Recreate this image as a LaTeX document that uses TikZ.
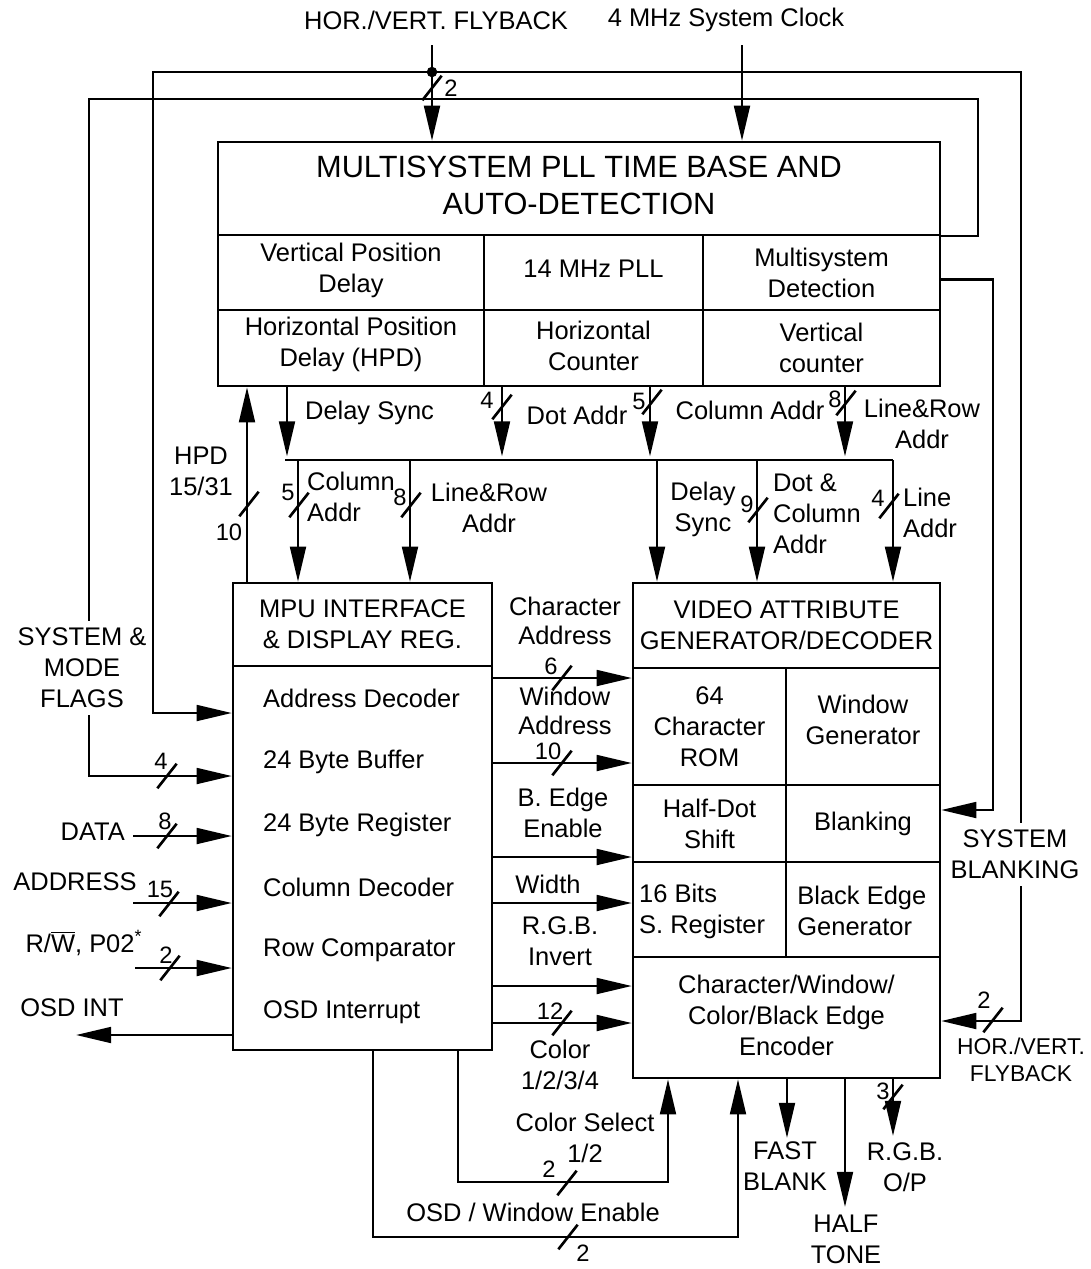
\documentclass[tikz,border=0pt]{standalone}
\usepackage{fontspec}
\setmainfont{Liberation Sans}
\usetikzlibrary{arrows.meta,positioning,fit}

\begin{document}
\begin{tikzpicture}[x=0.02cm,y=-0.02cm]
    \tikzset{
      wire/.style={line width=1.4pt},
      arr/.style={wire, -{Triangle[length=20pt,width=9pt]}},
      cell/.style={draw, line width=1.4pt, inner sep=0pt},
      txt/.style={font=\fontsize{14.5}{17.6}\selectfont, align=center, inner sep=1pt},
      ltxt/.style={txt, align=left, anchor=west},
      num/.style={font=\fontsize{13.5}{15}\selectfont, inner sep=0pt},
      wslash/.pic={\draw[line width=1.5pt] (-5.5pt,-7pt) -- (5.5pt,7pt);}
    }
    \useasboundingbox (0,0) rectangle (1090,1269);

    % Time base and auto-detection
    \node[cell, fit={(218,142) (940,235)}] (plltitle) {};
    \node[cell, fit={(218,235) (484,310)}] (vpd) {};
    \node[cell, fit={(484,235) (703,310)}] (pllf) {};
    \node[cell, fit={(703,235) (940,310)}] (msd) {};
    \node[cell, fit={(218,310) (484,386)}] (hpd) {};
    \node[cell, fit={(484,310) (703,386)}] (hcnt) {};
    \node[cell, fit={(703,310) (940,386)}] (vcnt) {};
    \node[txt, font=\fontsize{17.5}{21}\selectfont] (plltitletxt) at ([yshift=2pt]plltitle.center) {MULTISYSTEM PLL TIME BASE AND\\AUTO-DETECTION};
    \node[txt] (vpdtxt) at ([yshift=1pt]vpd.center) {Vertical Position\\Delay};
    \node[txt] (pllftxt) at ([yshift=2pt]pllf.center) {14 MHz PLL};
    \node[txt] (msdtxt) at (msd.center) {Multisystem\\Detection};
    \node[txt] (hpdtxt) at ([yshift=2pt]hpd.center) {Horizontal Position\\Delay (HPD)};
    \node[txt] (hcnttxt) at ([yshift=1pt]hcnt.center) {Horizontal\\Counter};
    \node[txt] (vcnttxt) at (vcnt.center) {Vertical\\counter};

    % MPU interface
    \node[cell, fit={(233,583) (492,666)}] (mpuhead) {};
    \node[cell, fit={(233,666) (492,1050)}] (mpubody) {};
    \node[txt] (mpuheadtxt) at (mpuhead.center) {MPU INTERFACE\\\& DISPLAY REG.};
    \node[ltxt] (adec) at (261,698) {Address Decoder};
    \node[ltxt] (bbuf) at (261,762) {24 Byte Buffer};
    \node[ltxt] (breg) at (261,825) {24 Byte Register};
    \node[ltxt] (cdec) at (261,887) {Column Decoder};
    \node[ltxt] (rcmp) at (261,950) {Row Comparator};
    \node[ltxt] (oint) at (261,1012) {OSD Interrupt};

    % Video attribute generator
    \node[cell, fit={(633,583) (940,668)}] (vaghead) {};
    \node[cell, fit={(633,668) (786,785)}] (crom) {};
    \node[cell, fit={(786,668) (940,785)}] (wgen) {};
    \node[cell, fit={(633,785) (786,862)}] (hds) {};
    \node[cell, fit={(786,785) (940,862)}] (blnk) {};
    \node[cell, fit={(633,862) (786,957)}] (sreg) {};
    \node[cell, fit={(786,862) (940,957)}] (begen) {};
    \node[cell, fit={(633,957) (940,1078)}] (enc) {};
    \node[txt] (vagheadtxt) at (vaghead.center) {VIDEO ATTRIBUTE\\GENERATOR/DECODER};
    \node[txt] (cromtxt) at (crom.center) {64\\Character\\ROM};
    \node[txt] (wgentxt) at ([yshift=4pt]wgen.center) {Window\\Generator};
    \node[txt] (hdstxt) at (hds.center) {Half-Dot\\Shift};
    \node[txt] (blnktxt) at (blnk.center) {Blanking};
    \node[ltxt] (sregtxt) at ([xshift=3pt,yshift=-1pt]sreg.west) {16 Bits\\S. Register};
    \node[ltxt] (begentxt) at ([xshift=6pt,yshift=-1pt]begen.west) {Black Edge\\Generator};
    \node[txt] (enctxt) at ([yshift=1pt]enc.center) {Character/Window/\\Color/Black Edge\\Encoder};

    % Top inputs and loops
    \node[txt] (flytxt) at (436,20) {HOR./VERT. FLYBACK};
    \node[txt] (clktxt) at (726,20) {4 MHz System Clock};
    \coordinate (flytop) at (432,45);
    \coordinate (flydot) at (432,72);
    \coordinate (clktop) at (742,45);
    \coordinate (flagL) at (153,713);
    \coordinate (flyR) at (1021,1021);
    \coordinate (modeR) at (978,99);
    \coordinate (modeL) at (89,776);
    \coordinate (blkR) at (993,810);

    \draw[arr] (flytop) -- (flytop |- plltitle.north);
    \draw[arr] (clktop) -- (clktop |- plltitle.north);
    \pic at (432,88) {wslash};
    \node[num] (n2a) at (451,88) {2};
    \draw[arr] (plltitle.south east) -| (modeR) -| (modeL) -- (modeL -| mpubody.west);
    \pic at (167,776) {wslash};
    \node[num] (n4c) at (161,761) {4};
    \node[txt, fill=white, inner xsep=1pt, inner ysep=4pt] (flags) at (82,668) {SYSTEM \&\\MODE\\FLAGS};
    \draw[arr] (flydot) -| (flagL) -- (flagL -| mpubody.west);
    \draw[arr] (flydot) -| (flyR) -- (flyR -| enc.east);
    \fill (flydot) circle (3pt);
    \pic at (993,1020) {wslash};
    \node[num] (n2b) at (984,1000) {2};
    \draw[arr] ([yshift=-4pt]msd.east) -| (blkR) -- (blkR -| blnk.east);
    \node[txt, fill=white, inner ysep=4pt] (sysblank) at (1015,854) {SYSTEM\\BLANKING};
    \node[txt, font=\fontsize{13}{15.5}\selectfont] (flyback) at (1021,1060) {HOR./VERT.\\FLYBACK};

    % Tracks between the blocks
    \coordinate (tHPD) at (247,0);
    \coordinate (tDS) at (287,0);
    \coordinate (tDA) at (502,0);
    \coordinate (tCA) at (650,0);
    \coordinate (tLR) at (845,0);
    \coordinate (busL) at (285,460);
    \coordinate (busR) at (893,460);
    \coordinate (tCA2) at (298,0);
    \coordinate (tLR2) at (410,0);
    \coordinate (tDS2) at (657,0);
    \coordinate (tDC) at (757,0);

    \draw[arr] (tHPD |- mpuhead.north) -- (tHPD |- hpd.south);
    \draw[arr, shorten >=2pt] (tDS |- hpd.south) -- (tDS |- busL);
    \draw[arr, shorten >=2pt] (tDA |- hcnt.south) -- (tDA |- busL);
    \draw[arr, shorten >=2pt] (tCA |- hcnt.south) -- (tCA |- busL);
    \draw[arr, shorten >=2pt] (tLR |- vcnt.south) -- (tLR |- busL);
    \draw[wire] (busL) -- (busR);
    \draw[arr] (tCA2 |- busL) -- (tCA2 |- mpuhead.north);
    \draw[arr] (tLR2 |- busL) -- (tLR2 |- mpuhead.north);
    \draw[arr] (tDS2 |- busL) -- (tDS2 |- vaghead.north);
    \draw[arr] (tDC |- busL) -- (tDC |- vaghead.north);
    \draw[arr] (busR) -- (busR |- vaghead.north);

    \node[txt] (hpdlbl) at (201,471) {HPD\\15/31};
    \pic at (249,504) {wslash};
    \node[num] (n10a) at (229,532) {10};
    \node[txt, anchor=west] (dslbl) at (303,413) {Delay Sync};
    \pic at (502,407) {wslash};
    \node[num] (n4a) at (487,400) {4};
    \node[txt] (dalbl) at (577,415) {Dot Addr};
    \pic at (652,402) {wslash};
    \node[num] (n5a) at (639,401) {5};
    \node[txt] (calbl) at (750,410) {Column Addr};
    \pic at (846,403) {wslash};
    \node[num] (n8a) at (835,399) {8};
    \node[txt] (lrlbl) at (922,424) {Line\&Row\\Addr};

    \pic at (299,505) {wslash};
    \node[num] (n5b) at (288,492) {5};
    \node[ltxt] (calbl2) at (305,497) {Column\\Addr};
    \pic at (411,505) {wslash};
    \node[num] (n8b) at (400,497) {8};
    \node[txt] (lrlbl2) at (489,508) {Line\&Row\\Addr};
    \node[txt] (dslbl2) at (703,509) {Delay\\Sync};
    \pic at (758,510) {wslash};
    \node[num] (n9) at (747,504) {9};
    \node[ltxt] (dclbl) at (771,514) {Dot \&\\Column\\Addr};
    \pic at (889,506) {wslash};
    \node[num] (n4b) at (878,498) {4};
    \node[ltxt] (lalbl) at (901,513) {Line\\Addr};

    % MPU to video attribute generator
    \coordinate (rCA) at (562,678);
    \coordinate (rWA) at (562,763);
    \coordinate (rBE) at (562,857);
    \coordinate (rWD) at (562,903);
    \coordinate (rRI) at (562,986);
    \coordinate (rCO) at (562,1023);
    \draw[arr] (mpubody.east |- rCA) -- (crom.west |- rCA);
    \draw[arr] (mpubody.east |- rWA) -- (crom.west |- rWA);
    \draw[arr] (mpubody.east |- rBE) -- (hds.west |- rBE);
    \draw[arr] (mpubody.east |- rWD) -- (sreg.west |- rWD);
    \draw[arr] (mpubody.east |- rRI) -- (enc.west |- rRI);
    \draw[arr] (mpubody.east |- rCO) -- (enc.west |- rCO);
    \pic at (rCA) {wslash};
    \pic at (rWA) {wslash};
    \pic at (rCO) {wslash};
    \node[num] (n6) at (551,666) {6};
    \node[num] (n10b) at (548,751) {10};
    \node[num] (n12) at (550,1011) {12};
    \node[txt, font=\fontsize{14.5}{16.5}\selectfont] (calbl3) at (565,621) {Character\\Address};
    \node[txt, font=\fontsize{14.5}{16.5}\selectfont] (walbl) at (565,711) {Window\\Address};
    \node[txt] (belbl) at (563,813) {B. Edge\\Enable};
    \node[txt] (wdlbl) at (548,884) {Width};
    \node[txt] (rilbl) at (560,941) {R.G.B.\\Invert};
    \node[txt] (colbl) at (560,1065) {Color\\1/2/3/4};

    % Left inputs
    \coordinate (datain) at (133,836);
    \coordinate (addrin) at (133,903);
    \coordinate (rwin) at (135,968);
    \coordinate (intout) at (76,1035);
    \draw[arr] (datain) -- (datain -| mpubody.west);
    \draw[arr] (addrin) -- (addrin -| mpubody.west);
    \draw[arr] (rwin) -- (rwin -| mpubody.west);
    \draw[arr] (intout -| mpubody.west) -- (intout);
    \pic at (167,836) {wslash};
    \pic at (169,904) {wslash};
    \pic at (170,968) {wslash};
    \node[num] (n8c) at (165,821) {8};
    \node[num] (n15) at (160,889) {15};
    \node[num] (n2c) at (166,955) {2};
    \node[txt, anchor=east] (datalbl) at (127,832) {DATA};
    \node[txt] (addrlbl) at (75,882) {ADDRESS};
    \node[txt] (rwlbl) at (84,943) {R/$\overline{\mbox{W}}$, P02\textsuperscript{*}};
    \node[txt] (intlbl) at (72,1008) {OSD INT};

    % Bottom loops and outputs
    \coordinate (osdL) at (373,1237);
    \coordinate (osdR) at (738,1237);
    \coordinate (csL) at (458,1182);
    \coordinate (csR) at (668,1182);
    \draw[arr] (osdL |- mpubody.south) -- (osdL) -- (osdR) -- (osdR |- enc.south);
    \draw[arr] (csL |- mpubody.south) -- (csL) -- (csR) -- (csR |- enc.south);
    \pic at (567,1183) {wslash};
    \pic at (568,1237) {wslash};
    \node[num] (n2d) at (549,1169) {2};
    \node[num] (n2e) at (583,1253) {2};
    \node[txt] (cslbl) at (585,1138) {Color Select\\1/2};
    \node[txt] (osdlbl) at (533,1212) {OSD / Window Enable};

    \coordinate (fbx) at (787,1138);
    \coordinate (htx) at (845,1207);
    \coordinate (rgbx) at (893,1136);
    \draw[arr] (fbx |- enc.south) -- (fbx);
    \draw[arr] (htx |- enc.south) -- (htx);
    \draw[arr] (rgbx |- enc.south) -- (rgbx);
    \pic at (893,1097) {wslash};
    \node[num] (n3) at (883,1091) {3};
    \node[txt] (fblbl) at (785,1166) {FAST\\BLANK};
    \node[txt] (htlbl) at (846,1239) {HALF\\TONE};
    \node[txt] (rgblbl) at (905,1167) {R.G.B.\\O/P};
\end{tikzpicture}
\end{document}
